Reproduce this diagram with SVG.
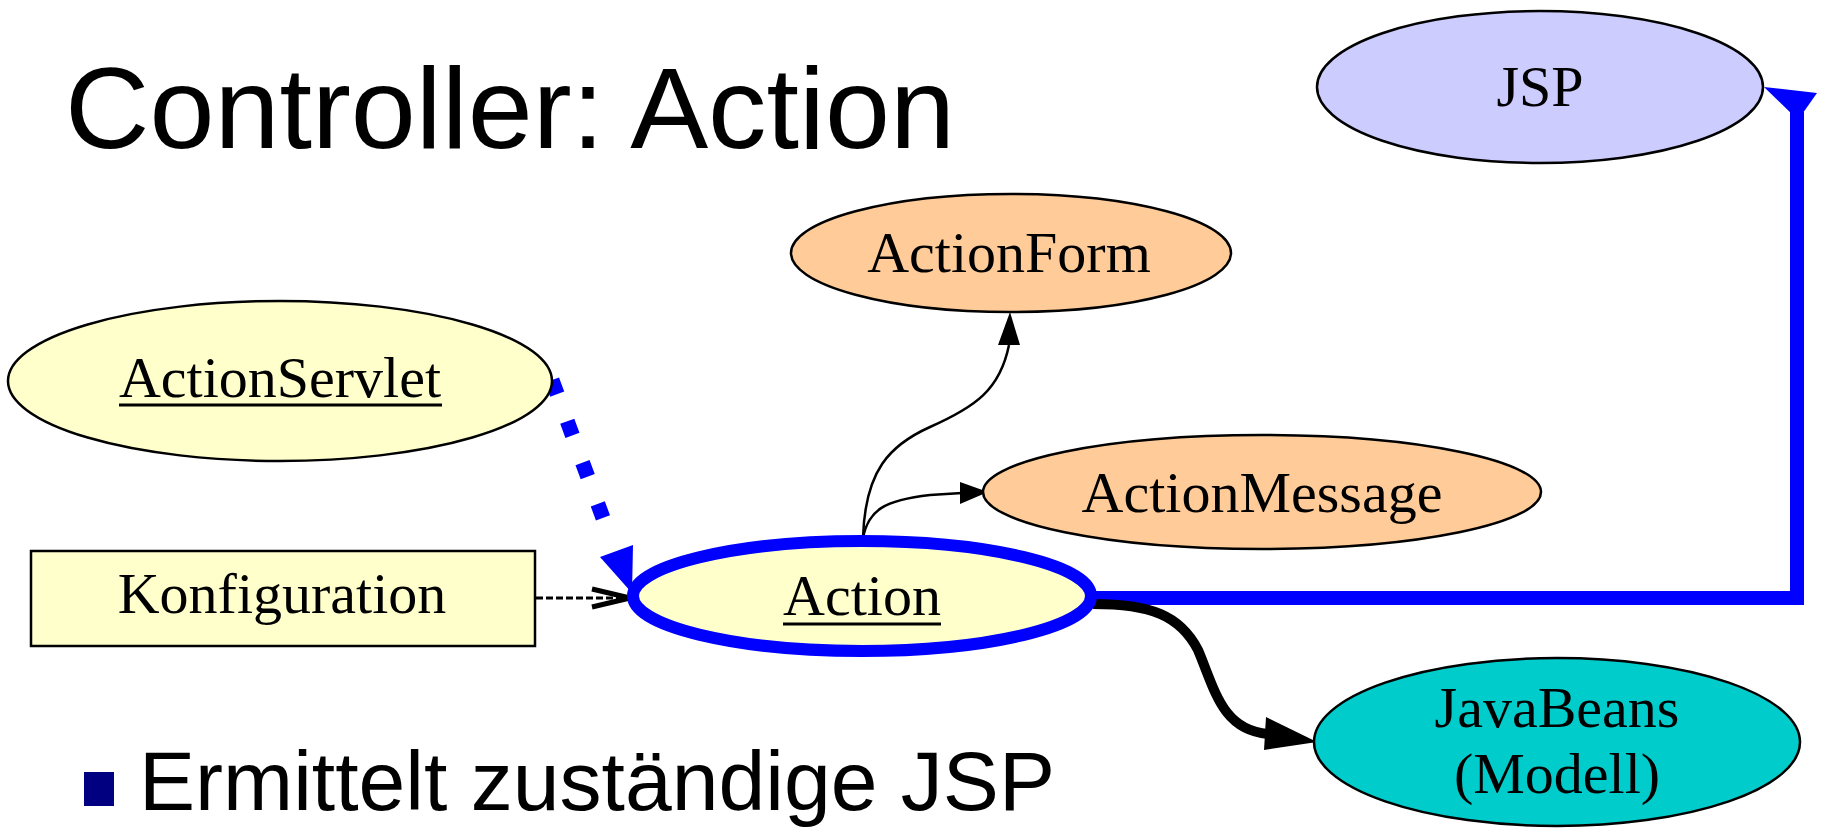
<svg xmlns="http://www.w3.org/2000/svg" width="1823" height="833" viewBox="0 0 1823 833">
<style>
.bg{fill:#ffffff}
.node{stroke:#000;stroke-width:2.5}
.yellow{fill:#ffffcc}
.peach{fill:#ffcc99}
.lilac{fill:#ccccff}
.teal{fill:#00cccc}
.lbl{font-family:"Liberation Serif","Times New Roman",serif;font-size:58px;fill:#000;text-anchor:middle}
.ul{stroke:#000;stroke-width:3}
.head{font-family:"Liberation Sans",Arial,sans-serif;fill:#000}
</style>
<rect class="bg" x="0" y="0" width="1823" height="833"/>
<text class="head" x="65" y="148" font-size="115" textLength="890" lengthAdjust="spacingAndGlyphs">Controller: Action</text>
<rect x="84" y="772" width="30" height="34" fill="#000080"/>
<text class="head" x="139" y="810" font-size="84" textLength="916" lengthAdjust="spacingAndGlyphs">Ermittelt zuständige JSP</text>

<g id="connectors">
  <path d="M552,380 L613,545" fill="none" stroke="#0000ff" stroke-width="15" stroke-dasharray="15 29"/>
  <polygon points="600,557 633,545 632,593" fill="#0000ff"/>
  <path d="M536,598 L626,598" fill="none" stroke="#000" stroke-width="3" stroke-dasharray="7 3"/>
  <path d="M592,589 L630,598 L592,607" fill="none" stroke="#000" stroke-width="5"/>
  <path d="M863,538 C865,470 890,445 930,427 C975,407 1000,390 1009,345" fill="none" stroke="#000" stroke-width="2.5"/>
  <polygon points="998,345 1020,345 1010,312" fill="#000"/>
  <path d="M863,538 C868,510 885,500 930,495 L962,493" fill="none" stroke="#000" stroke-width="2.5"/>
  <polygon points="960,482 960,504 988,492" fill="#000"/>
  <path d="M1091,598 L1797,598 L1797,112" fill="none" stroke="#0000ff" stroke-width="14"/>
  <polygon points="1764,87 1817,93 1798,120" fill="#0000ff"/>
  <path d="M1093,604 C1150,604 1180,615 1198,650 C1215,690 1222,730 1268,734" fill="none" stroke="#000" stroke-width="10"/>
  <polygon points="1266,717 1264,750 1317,742" fill="#000"/>
</g>

<g id="node-jsp">
  <ellipse class="node lilac" cx="1540" cy="87" rx="223" ry="76"/>
  <text class="lbl" x="1540" y="106">JSP</text>
</g>
<g id="node-actionform">
  <ellipse class="node peach" cx="1011" cy="253" rx="220" ry="59"/>
  <text class="lbl" x="1009" y="272">ActionForm</text>
</g>
<g id="node-actionservlet">
  <ellipse class="node yellow" cx="280" cy="381" rx="272" ry="80"/>
  <text class="lbl" x="280" y="397">ActionServlet</text>
  <line class="ul" x1="119" y1="405" x2="442" y2="405"/>
</g>
<g id="node-actionmessage">
  <ellipse class="node peach" cx="1262" cy="492" rx="279" ry="57"/>
  <text class="lbl" x="1262" y="512">ActionMessage</text>
</g>
<g id="node-konfiguration">
  <rect class="node yellow" x="31" y="551" width="504" height="95" stroke-width="3"/>
  <text class="lbl" x="282" y="613">Konfiguration</text>
</g>
<g id="node-action">
  <ellipse cx="862" cy="596" rx="229" ry="55" fill="#ffffcc" stroke="#0000ff" stroke-width="12"/>
  <text class="lbl" x="862" y="615">Action</text>
  <line class="ul" x1="783" y1="624" x2="941" y2="624"/>
</g>
<g id="node-javabeans">
  <ellipse class="node teal" cx="1557" cy="742" rx="243" ry="84"/>
  <text class="lbl" x="1557" y="727">JavaBeans</text>
  <text class="lbl" x="1557" y="793">(Modell)</text>
</g>
</svg>
